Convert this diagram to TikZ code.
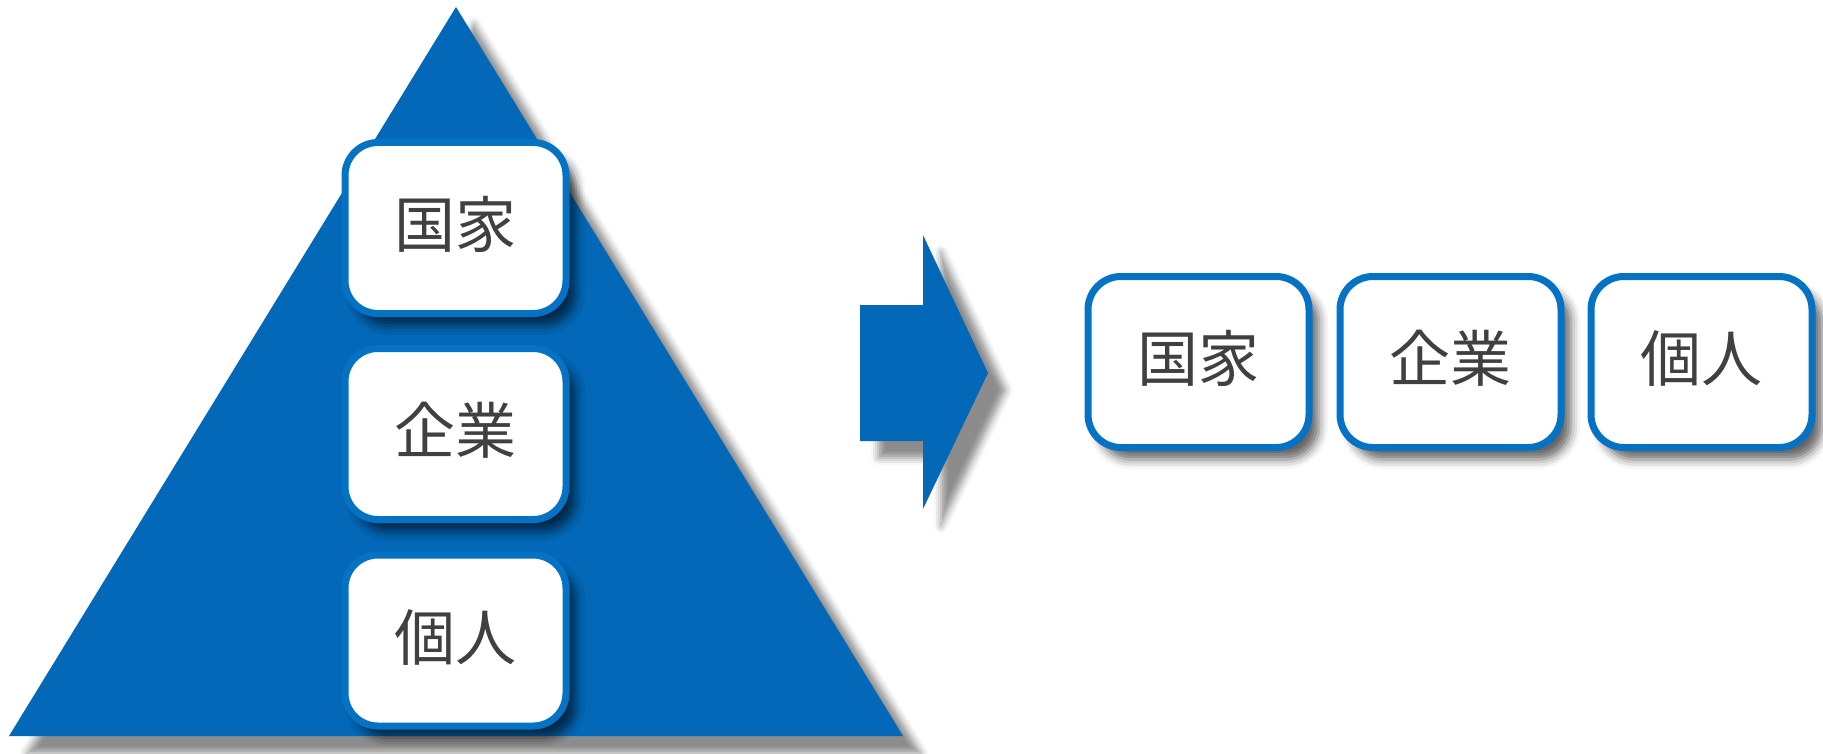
\documentclass[tikz,border=0pt]{standalone}
\usepackage{fontspec}
\newfontfamily\cjk{Noto Sans CJK JP}
\usetikzlibrary{shadows.blur}
\definecolor{triblue}{HTML}{0268B7}
\definecolor{boxblue}{HTML}{0572C4}
\definecolor{txtgray}{HTML}{404040}
\newcommand{\lifted}[1]{\raisebox{3.5pt}[\height][\depth]{#1}}
\tikzset{
  bigshadow/.style={blur shadow={shadow xshift=18pt, shadow yshift=-17pt, shadow blur radius=7pt, shadow opacity=45}},
  wordbox/.style={draw=boxblue, line width=7pt, fill=white, rounded corners=33pt,
    minimum width=221pt, minimum height=171pt, inner sep=0pt,
    font=\cjk\fontsize{61}{61}\selectfont, text=txtgray,
    blur shadow={shadow xshift=10pt, shadow yshift=-12pt, shadow blur radius=9pt, shadow opacity=60}},
}
\begin{document}
\begin{tikzpicture}[x=1pt,y=-1pt]
\useasboundingbox (0,0) rectangle (1823,754);
% pyramid
\fill[triblue, bigshadow] (456,7) -- (903,736) -- (9,736) -- cycle;
% boxes on pyramid
\node[wordbox] (kokka1) at (455.5,228) {\lifted{国家}};
\node[wordbox] (kigyo1) at (455.5,434) {\lifted{企業}};
\node[wordbox] (kojin1) at (455.5,640.5) {\lifted{個人}};
% arrow
\fill[triblue, bigshadow] (860,305) -- (923,305) -- (923,235) -- (988,373) -- (923,509) -- (923,441) -- (860,441) -- cycle;
% boxes on the right
\node[wordbox] (kokka2) at (1198.5,362) {\lifted{国家}};
\node[wordbox] (kigyo2) at (1450.5,362) {\lifted{企業}};
\node[wordbox] (kojin2) at (1701.5,362) {\lifted{個人}};
\end{tikzpicture}
\end{document}
